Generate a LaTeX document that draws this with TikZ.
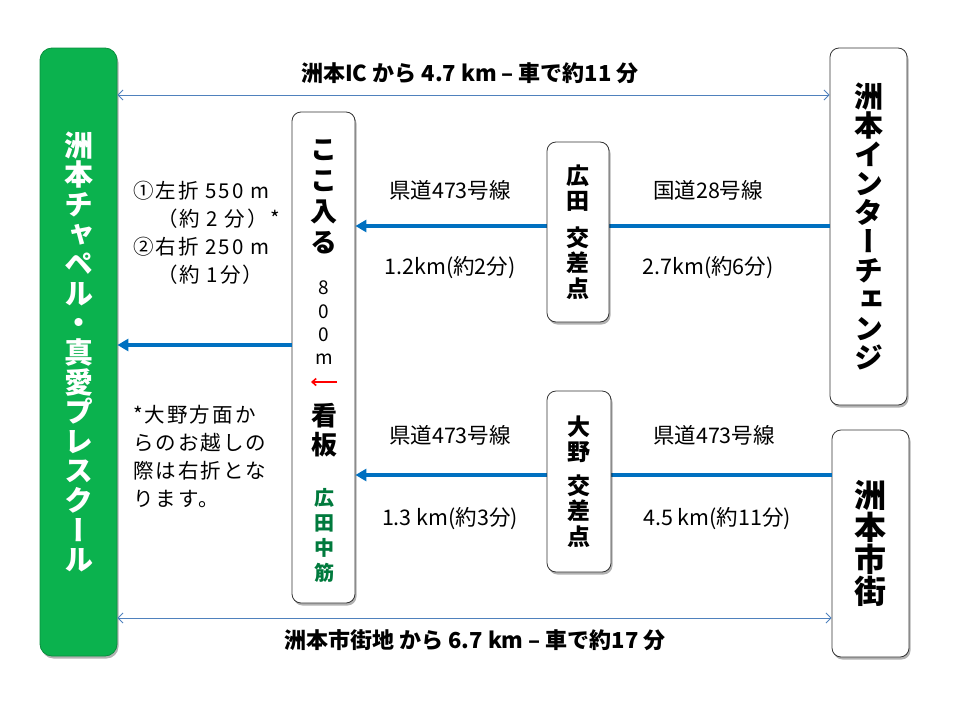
\documentclass[tikz,border=0pt]{standalone}
\usepackage{fontspec}
\setmainfont{Noto Sans CJK JP}
\newfontfamily\vjp{Noto Sans CJK JP}[RawFeature=+vert]
\newfontfamily\notejp{Noto Sans CJK JP}[LetterSpace=10]
\usetikzlibrary{arrows.meta,shadows}
\definecolor{chapelgreen}{HTML}{0BB24E}
\definecolor{roadblue}{HTML}{0070C0}
\definecolor{lineblue}{HTML}{4F81BD}
\definecolor{streetgreen}{HTML}{007A3D}
\tikzset{
    place-box/.style = {draw=black!80, fill=white, thick, rectangle, rounded corners=9pt, inner sep=0pt, align=center, drop shadow={shadow xshift=1.5pt, shadow yshift=-2.5pt, fill=black, opacity=0.3}},
    chapel-box/.style = {place-box, draw=chapelgreen!80!black, fill=chapelgreen, text=white, rounded corners=12pt, font={\vjp\bfseries\fontsize{29}{29.6}\selectfont}},
    end-box/.style = {place-box, minimum width=77pt, font={\vjp\bfseries\fontsize{29}{29}\selectfont}},
    cross-box/.style = {place-box, font={\vjp\bfseries\fontsize{23}{25.5}\selectfont}},
    gate-text/.style = {align=center, inner sep=0pt},
    road-arrow/.style = {draw=roadblue, line width=3.5pt, -{Triangle[length=11pt,width=12pt]}},
    time-arrow/.style = {draw=lineblue, line width=0.9pt, {Straight Barb[length=5pt,width=10pt]}-{Straight Barb[length=5pt,width=10pt]}},
    sign-arrow/.style = {draw=red, line width=1.6pt, -{Straight Barb[length=4pt,width=7pt]}},
    road-label/.style = {font={\fontsize{21.5}{23}\selectfont}},
    time-label/.style = {font={\bfseries\fontsize{22}{24}\selectfont}},
    note/.style = {font={\notejp\fontsize{20.5}{28}\selectfont}, align=left, anchor=west, inner sep=0pt},
}
\begin{document}
\begin{tikzpicture}[x=1pt,y=-1pt]
\useasboundingbox (0,0) rectangle (960,720);
\node [chapel-box, minimum width=77pt, minimum height=608pt] (chapel) at (78.5,352) {洲\\本\\チ\\ャ\\ペ\\ル\\・\\真\\愛\\プ\\レ\\ス\\ク\\ー\\ル};
\node [end-box, minimum height=357pt] (ic) at (868.5,226.5) {洲\\本\\イ\\ン\\タ\\ー\\チ\\ェ\\ン\\ジ};
\node [end-box, minimum height=227pt, font={\vjp\bfseries\fontsize{32}{32}\selectfont}] (town) at (870.5,543.5) {洲\\本\\市\\街};
\node [place-box, minimum width=63pt, minimum height=491pt] (gate) at (323.5,357.5) {};

\coordinate (t1) at (0,95);
\coordinate (t2) at (0,618);
\coordinate (r1) at (0,226);
\coordinate (r2) at (0,475);
\coordinate (r3) at (0,345);

\draw[time-arrow] (chapel.east |- t1) -- (ic.west |- t1);
\draw[time-arrow] (chapel.east |- t2) -- (town.west |- t2);
\draw[road-arrow] (ic.west |- r1) -- (gate.east |- r1);
\draw[road-arrow] (town.west |- r2) -- (gate.east |- r2);
\draw[road-arrow] (gate.west |- r3) -- (chapel.east |- r3);

\node [cross-box, minimum width=62pt, minimum height=180pt] (hirota) at (578,232) {広\\田\\[11pt]交\\差\\点};
\node [cross-box, minimum width=64pt, minimum height=181pt] (ono) at (579,481.5) {大\\野\\[8pt]交\\差\\点};

\node [gate-text, font={\vjp\bfseries\fontsize{27}{31}\selectfont}] (enter) at (324,197) {こ\\こ\\入\\る};
\node [gate-text, font={\fontsize{19}{23.3}\selectfont}] (dist) at (324,323) {8\\0\\0\\m};
\coordinate (sign-r) at (337,382);
\coordinate (sign-l) at (311,382);
\draw[sign-arrow] (sign-r) -- (sign-l);
\node [gate-text, font={\vjp\bfseries\fontsize{26}{29}\selectfont}] (sign) at (324,430) {看\\板};
\node [gate-text, text=streetgreen, font={\vjp\bfseries\fontsize{20}{25}\selectfont}] (street) at (324,535) {広\\田\\中\\筋};

\node [time-label] (top-label) at (470,73) {洲本IC から 4.7 km – 車で約11 分};
\node [time-label] (bottom-label) at (475,640) {洲本市街地 から 6.7 km – 車で約17 分};

\node [road-label] (r1-name) at (450,190) {県道473号線};
\node [road-label] (r1-dist) at (450,268) {1.2km(約2分)};
\node [road-label] (r2-name) at (708,190) {国道28号線};
\node [road-label] (r2-dist) at (708,268) {2.7km(約6分)};
\node [road-label] (r3-name) at (450,435) {県道473号線};
\node [road-label] (r3-dist) at (450,519) {1.3 km(約3分)};
\node [road-label] (r4-name) at (714,435) {県道473号線};
\node [road-label] (r4-dist) at (717,519) {4.5 km(約11分)};

\node [note] (turns) at (133,233) {①左折 550 m\\\hspace*{24pt}（約 2 分）*\\②右折 250 m\\\hspace*{24pt}（約 1分）};
\node [note] (from-ono) at (133,456) {*大野方面か\\らのお越しの\\際は右折とな\\ります。};
\end{tikzpicture}
\end{document}
